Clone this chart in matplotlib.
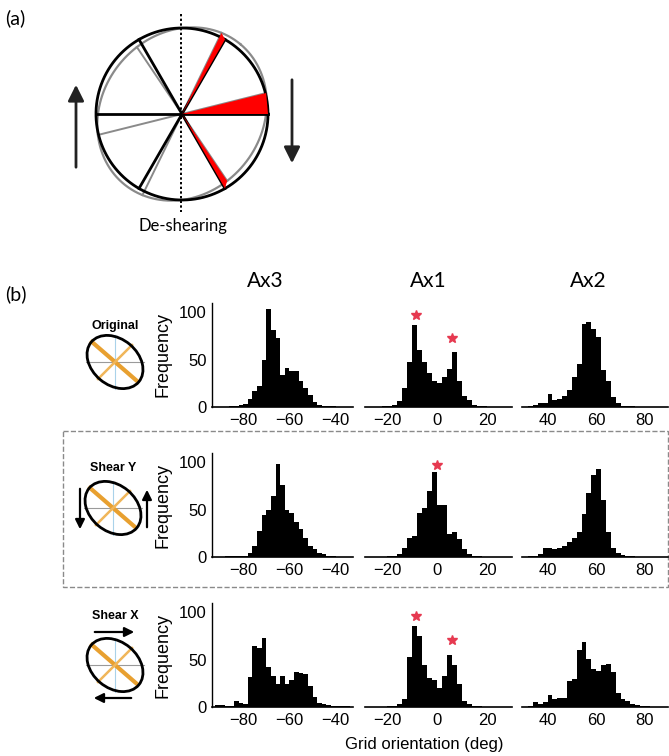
import numpy as np
import matplotlib.pyplot as plt
from matplotlib.patches import Ellipse, Polygon, Rectangle

plt.rcParams['font.family'] = ['Liberation Sans', 'DejaVu Sans']

# histogram bin centres (2 deg bins)
ax3_bins = np.arange(-91, -32, 2)
ax1_bins = np.arange(-29, 30, 2)
ax2_bins = np.arange(31, 90, 2)

# counts per condition
orig_ax3 = [0, 0, 0, 1, 1, 2, 3, 8, 17, 22, 50, 104, 81, 73, 34, 41, 38, 38, 27, 20,
            13, 5, 2, 1, 1, 1, 0, 0, 0, 0]
orig_ax1 = [0, 0, 0, 0, 1, 1, 2, 6, 20, 48, 87, 60, 48, 36, 27, 25, 32, 40, 58, 28,
            12, 7, 2, 1, 1, 0, 0, 0, 0, 0]
orig_ax2 = [0, 1, 2, 4, 4, 14, 7, 8, 12, 18, 32, 46, 88, 90, 83, 74, 39, 27, 11, 4,
            1, 1, 1, 0, 0, 0, 0, 0, 0, 0]

shy_ax3 = [0, 0, 1, 1, 1, 1, 1, 4, 12, 28, 44, 50, 64, 98, 76, 50, 47, 37, 30, 20,
           12, 8, 4, 3, 1, 1, 0, 0, 0, 0]
shy_ax1 = [0, 0, 0, 0, 0, 1, 1, 3, 10, 20, 22, 47, 52, 70, 90, 55, 55, 24, 26, 19,
           8, 3, 1, 1, 0, 0, 0, 0, 0, 0]
shy_ax2 = [0, 1, 1, 3, 10, 9, 8, 9, 12, 16, 20, 26, 45, 68, 87, 93, 60, 26, 10, 4,
           2, 1, 1, 0, 0, 0, 0, 0, 0, 0]

shx_ax3 = [2, 2, 1, 1, 6, 4, 3, 32, 64, 62, 73, 42, 33, 24, 33, 24, 29, 37, 36, 35,
           22, 11, 4, 3, 2, 1, 1, 1, 1, 0]
shx_ax1 = [0, 0, 0, 0, 0, 1, 1, 3, 8, 53, 86, 75, 44, 31, 29, 20, 33, 55, 44, 24,
           6, 3, 1, 1, 0, 0, 0, 0, 0, 0]
shx_ax2 = [0, 1, 5, 3, 5, 13, 8, 9, 9, 28, 30, 60, 69, 51, 40, 38, 44, 46, 37, 15,
           8, 6, 3, 2, 1, 1, 0, 0, 0, 0]

# peaks marked with a star (Ax1 only)
orig_star_x, orig_star_y = [-8.5, 6], [97, 73]
shy_star_x, shy_star_y = [-0.3], [97]
shx_star_x, shx_star_y = [-8.5, 6], [96, 71]

col_titles = ['Ax3', 'Ax1', 'Ax2']
row_names = ['Original', 'Shear Y', 'Shear X']
xticks = [[-80, -60, -40], [-20, 0, 20], [40, 60, 80]]

# schematic: grid axes before (grey) and after (black) de-shearing
axes_after = [0, 60, 120]
axes_before = [14, 64, 124]

bins = [ax3_bins, ax1_bins, ax2_bins]
counts = [[orig_ax3, orig_ax1, orig_ax2],
          [shy_ax3, shy_ax1, shy_ax2],
          [shx_ax3, shx_ax1, shx_ax2]]
stars = [(orig_star_x, orig_star_y), (shy_star_x, shy_star_y), (shx_star_x, shx_star_y)]

W, H = 669, 756
fig = plt.figure(figsize=(W / 100, H / 100), dpi=100)

# overlay in pixel coords for the sketches
ov = fig.add_axes([0, 0, 1, 1])
ov.set_xlim(0, W)
ov.set_ylim(H, 0)
ov.axis('off')

# ---- (a) de-shearing sketch
cx, cy, r = 182, 114, 86
ea, eb, erot = 91, 80, np.radians(50)   # grey (sheared) outline


def ell_r(phi):
    d = phi - erot
    return 1 / np.sqrt(np.cos(d) ** 2 / ea ** 2 + np.sin(d) ** 2 / eb ** 2)


def pt(rad, phi):
    return cx + rad * np.cos(phi), cy - rad * np.sin(phi)


th = np.linspace(0, 2 * np.pi, 400)
ov.plot(cx + r * np.cos(th), cy - r * np.sin(th), color='black', lw=2, zorder=2)
gx = ea * np.cos(th) * np.cos(erot) - eb * np.sin(th) * np.sin(erot)
gy = ea * np.cos(th) * np.sin(erot) + eb * np.sin(th) * np.cos(erot)
ov.plot(cx + gx, cy - gy, color='#8a8a8a', lw=1.6, zorder=1)

for ang in axes_before:
    p = np.radians(ang)
    x0, y0 = pt(ell_r(p + np.pi), p + np.pi)
    x1, y1 = pt(ell_r(p), p)
    ov.plot([x0, x1], [y0, y1], color='#8a8a8a', lw=1.4, zorder=1)
for ang in axes_after:
    p = np.radians(ang)
    x0, y0 = pt(r, p + np.pi)
    x1, y1 = pt(r, p)
    ov.plot([x0, x1], [y0, y1], color='black', lw=2, zorder=2)

# red wedges on the right-hand side
for a_after, a_before in [(0, 14), (60, 64), (-60, -56)]:
    pa, pb = np.radians(a_after), np.radians(a_before)
    ov.add_patch(Polygon([(cx, cy), pt(r, pa), pt(ell_r(pb), pb)],
                         closed=True, color='#ff0000', lw=0, zorder=3))

ov.plot([cx - 1, cx - 1], [14, 212], color='black', lw=1.4, ls=(0, (1.2, 1.2)), zorder=4)
ov.annotate('', xy=(76, 82), xytext=(76, 170),
            arrowprops=dict(arrowstyle='-|>', color='#222222', lw=2, mutation_scale=24))
ov.annotate('', xy=(292, 166), xytext=(292, 77),
            arrowprops=dict(arrowstyle='-|>', color='#222222', lw=2, mutation_scale=24))
ov.text(183, 226, 'De-shearing', ha='center', va='center', fontsize=12,
        family=['Lato', 'DejaVu Sans'])
ov.text(5, 18, '(a)', ha='left', va='center', fontsize=14, family=['Lato', 'DejaVu Sans'])
ov.text(5, 294, '(b)', ha='left', va='center', fontsize=14, family=['Lato', 'DejaVu Sans'])

# dashed box around the Shear Y row
ov.add_patch(Rectangle((63, 431), 605, 156, fill=False, ec='#8a8a8a', ls='--', lw=1))


def icon(x, y, label, ly):
    e = Ellipse((x, y), 62, 46, angle=40, fill=False, ec='black', lw=2, zorder=4)
    ov.add_patch(e)
    ov.plot([x - 29, x + 29], [y, y], color='#9a9a9a', lw=0.8)
    ov.plot([x, x], [y - 27, y + 27], color='#a9d2ea', lw=0.8)
    ov.plot([x - 23, x + 22], [y - 20, y + 19], color='#e8a030', lw=3)
    ov.plot([x - 17, x + 17], [y + 17, y - 17], color='#f0b65a', lw=1.8)
    ov.text(x, ly, label, ha='center', va='center', fontsize=9, fontweight='bold')


icon(115, 362, 'Original', 326)
icon(113, 508, 'Shear Y', 468)
icon(115, 665, 'Shear X', 616)

arrow_kw = dict(arrowstyle='-|>', color='black', lw=1.6, mutation_scale=14)
ov.annotate('', xy=(80, 532), xytext=(80, 486), arrowprops=arrow_kw)
ov.annotate('', xy=(147, 487), xytext=(147, 530), arrowprops=arrow_kw)
ov.annotate('', xy=(137, 632), xytext=(92, 632), arrowprops=arrow_kw)
ov.annotate('', xy=(91, 698), xytext=(134, 698), arrowprops=arrow_kw)

# ---- (b) histograms
cols = [(212, 353, (-93.5, -32.5)), (365, 512, (-29, 30)), (522, 668, (29.5, 89.5))]
rows = [(303, 407), (453, 557), (603, 707)]

for i, (top, bot) in enumerate(rows):
    for j, (left, right, xl) in enumerate(cols):
        ax = fig.add_axes([left / W, 1 - bot / H, (right - left) / W, (bot - top) / H])
        ax.set_facecolor('none')
        ax.bar(bins[j], counts[i][j], width=2, color='black', linewidth=0)
        if j == 1:
            ax.plot(stars[i][0], stars[i][1], ls='none', marker='*', color='#e63950', ms=7)
        ax.set_xlim(*xl)
        ax.set_ylim(0, 110)
        ax.set_xticks(xticks[j])
        ax.spines['top'].set_visible(False)
        ax.spines['right'].set_visible(False)
        if j == 0:
            ax.set_yticks([0, 50, 100])
            ax.spines['left'].set_linewidth(1)
        else:
            ax.spines['left'].set_visible(False)
            ax.set_yticks([])
        ax.spines['bottom'].set_linewidth(1.2)
        ax.tick_params(length=0, labelsize=12, pad=4)
    fig.text(163 / W, 1 - (top + bot) / 2 / H, 'Frequency', rotation=90,
             ha='center', va='center', fontsize=13)

for j, (t, x) in enumerate(zip(col_titles, [265, 428, 588])):
    fig.text(x / W, 1 - 281 / H, t, ha='center', va='center', fontsize=15,
             family=['Lato', 'DejaVu Sans'])

fig.text(424 / W, 1 - 745 / H, 'Grid orientation (deg)', ha='center', va='center', fontsize=12)

fig.savefig('out.png', dpi=100)
